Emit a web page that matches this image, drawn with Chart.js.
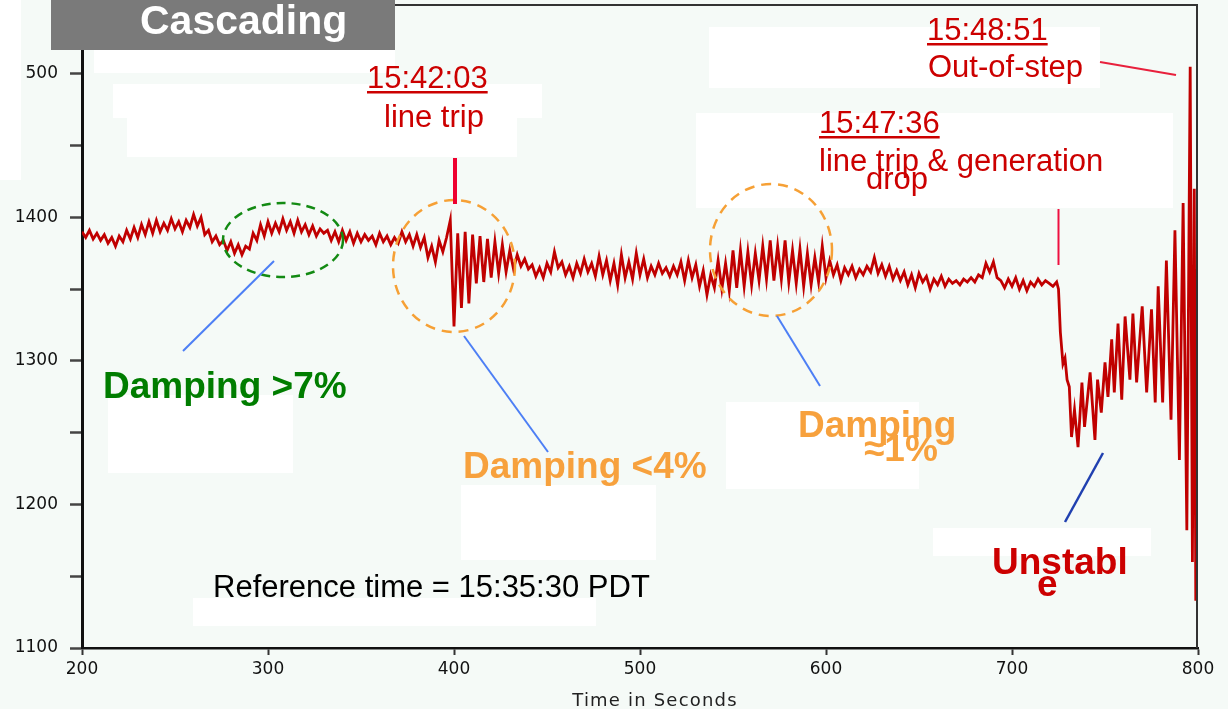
<!DOCTYPE html>
<html><head><meta charset="utf-8">
<script src="https://cdn.jsdelivr.net/npm/chart.js@4.4.1/dist/chart.umd.min.js"></script>
<style>html,body{margin:0;padding:0;background:#f5faf7;overflow:hidden}canvas{display:block}</style>
</head><body>
<canvas id="c" width="1228" height="709"></canvas>
<script>
// ---- data ----
const calmStart = 200;   // seconds, first sample
const calmStep = 2;      // seconds between samples
const calmValues = [
 1390,1386,1391,1385,1389,1384,1388,1382,1386,1380,
 1387,1383,1391,1385,1393,1386,1395,1388,1397,1389,
 1398,1390,1396,1391,1399,1392,1397,1390,1398,1393,
 1402,1394,1400,1388,1391,1383,1387,1381,1384,1377,
 1383,1375,1381,1374,1380,1378,1389,1384,1395,1387,
 1397,1389,1396,1390,1399,1391,1397,1389,1398,1390,
 1395,1388,1394,1387,1392,1389,1391,1384,1390,1383,
 1391,1384,1390,1382,1389,1383,1388,1384,1387,1381,
 1389,1383,1387,1381,1386,1382,1390,1383,1388,1380,
 1388,1379,1386,1372,1380,1369,1384,1376,1386,1398,
 1324,1389,1337,1390,1340,1388,1354,1387,1355,1385,
 1358,1383,1361,1381,1362,1377,1364,1374,1366,1371,
 1364,1367,1359,1365,1358,1368,1362,1376,1365,1369,
 1360,1366,1358,1368,1361,1371,1362,1368,1359,1373,
 1360,1370,1356,1368,1353,1374,1358,1369,1357,1375,
 1360,1371,1358,1366,1360,1368,1361,1365,1359,1366,
 1360,1369,1356,1370,1358,1367,1352,1363,1346,1360,
 1351,1370,1350,1368,1349,1377,1351,1377,1352,1376,
 1353,1375,1356,1380,1357,1384,1356,1380,1357,1384,
 1355,1377,1354,1378,1352,1375,1353,1372,1355,1380,
 1358,1370,1360,1367,1356,1365,1360,1366,1358,1364,
 1360,1366,1362,1372,1361,1367,1359,1366,1357,1363,
 1356,1362,1353,1360,1351,1361,1355,1359,1350,1357,
 1353,1359,1352,1357,1354,1356,1353,1357,1355,1358,
 1355,1360,1358,1368,1362,1369,1358,1356,1351,1357,
 1352,1358,1350,1356,1349,1355,1352,1357,1353,1356,1354,1352,1355
];
const unstableTimes = [725,726,727.4,728.5,729.6,730.8,732,733.6,735.5,737.6,
 739,742,744.6,746,748,750,751.6,753.6,755,757,
 759,760.8,763.4,765,767,770,772.4,775,777,778.6,
 781,783,785.5,787.6,790,792,794,795.8,797,798,798.8];
const unstableValues = [1350,1320,1298,1302,1287,1282,1247,1266,1240,1285,
 1254,1292,1245,1287,1264,1299,1275,1315,1278,1326,
 1273,1331,1287,1333,1285,1338,1278,1336,1271,1352,
 1271,1370,1259,1391,1231,1410,1182,1505,1160,1420,1133];
const xTicks = [200,300,400,500,600,700,800];
const xTickLabels = ['200','300','400','500','600','700','800'];
const yTicks = [1100,1150,1200,1250,1300,1350,1400,1450,1500];
const yTickLabels = ['1100','','1200','','1300','','1400','','500'];
const xTitle = 'Time in Seconds';

const points = calmValues.map((v,i)=>({x: calmStart + i*calmStep, y: v}))
  .concat(unstableTimes.map((t,i)=>({x: t, y: unstableValues[i]})));

const SANS = '"Liberation Sans", Arial, sans-serif';
const R = '31px ' + SANS;
const B = 'bold 37px ' + SANS;

const whiteBoxes = [
 [0,0,21,180],[94,40,301,33],[113,84,429,34],[127,118,390,39],
 [108,395,185,78],[461,485,195,75],[726,402,193,87],[933,528,218,28],
 [193,598,403,28],[709,27,391,61],[696,113,477,95]
];
const labels = [
 ['15:42:03',367,88,R,'#cc0000',true],
 ['line trip',384,127,R,'#cc0000',false],
 ['15:48:51',927,40,R,'#cc0000',true],
 ['Out-of-step',928,77,R,'#cc0000',false],
 ['15:47:36',819,133,R,'#cc0000',true],
 ['line trip & generation',819,171,R,'#cc0000',false],
 ['drop',866,189,R,'#cc0000',false],
 ['Damping >7%',103,398,B,'#007d00',false],
 ['Damping <4%',463,478,B,'#f7a13d',false],
 ['Damping',798,437,B,'#f7a13d',false],
 ['\u22481%',864,461,B,'#f7a13d',false],
 ['Unstabl',992,574,B,'#cc0000',false],
 ['e',1037,596,B,'#cc0000',false],
 ['Reference time = 15:35:30 PDT',213,597,R,'#000000',false]
];

const decor = {
  id:'decor',
  beforeDraw(chart){
    const c = chart.ctx;
    c.save();
    c.fillStyle = '#f5faf7';
    c.fillRect(0,0,chart.width,chart.height);
    c.fillStyle = '#ffffff';
    whiteBoxes.forEach(b=>c.fillRect(b[0],b[1],b[2],b[3]));
    c.restore();
  },
  afterDatasetsDraw(chart){
    const c = chart.ctx;
    c.save();
    const ell = (x,y,rx,ry,col,dash)=>{
      c.beginPath(); c.setLineDash(dash); c.strokeStyle=col; c.lineWidth=2.5;
      c.ellipse(x,y,rx,ry,0,0,Math.PI*2); c.stroke();
    };
    ell(283,240,60,37,'#138a13',[9,6]);
    ell(454,266,61,66,'#f6a035',[10,7]);
    ell(771,250,61,66,'#f6a035',[10,7]);
    c.setLineDash([]);
    const seg = (x1,y1,x2,y2,col,w)=>{
      c.beginPath(); c.strokeStyle=col; c.lineWidth=w; c.moveTo(x1,y1); c.lineTo(x2,y2); c.stroke();
    };
    seg(183,351,274,261,'#4d7ff5',2);
    seg(464,336,548,452,'#4d7ff5',2);
    seg(777,316,820,386,'#4d7ff5',2);
    seg(1065,522,1103,453,'#2040b0',2.5);
    seg(455,158,455,204,'#ee0030',4);
    seg(1058.5,209,1058.5,265,'#ee1040',2);
    seg(1100,62,1176,75,'#e8203c',2);
    c.restore();
  },
  afterDraw(chart){
    const c = chart.ctx, a = chart.chartArea;
    c.save();
    // frame top and right
    c.strokeStyle = '#333'; c.lineWidth = 2;
    c.beginPath(); c.moveTo(a.left, a.top); c.lineTo(a.right-1, a.top); c.lineTo(a.right-1, a.bottom); c.stroke();
    // axis title
    c.fillStyle = '#222';
    c.font = '18px "DejaVu Sans", sans-serif';
    c.textAlign = 'center'; c.textBaseline = 'alphabetic';
    try { c.letterSpacing = '1.2px'; } catch(e) {}
    c.fillText(xTitle, 655, 706);
    try { c.letterSpacing = '0px'; } catch(e) {}
    // annotation texts
    c.textAlign = 'left';
    labels.forEach(([s,x,y,f,col,u])=>{
      c.font = f; c.fillStyle = col; c.fillText(s,x,y);
      if(u){ const w = c.measureText(s).width; c.fillRect(x, y+3, w, 2.5); }
    });
    // title box
    c.fillStyle = '#7a7a7a';
    c.fillRect(51,0,344,50);
    c.fillStyle = '#ffffff';
    c.font = 'bold 41px ' + SANS;
    c.fillText('Cascading', 140, 34);
    c.restore();
  }
};

new Chart(document.getElementById('c').getContext('2d'), {
  type:'line',
  data:{datasets:[{data:points, borderColor:'#c00000', borderWidth:2.8, pointRadius:0, tension:0, fill:false}]},
  options:{
    responsive:false, animation:false, devicePixelRatio:1,
    layout:{padding:{top:5,right:30,left:0,bottom:0}},
    plugins:{legend:{display:false}, tooltip:{enabled:false}, title:{display:false}},
    scales:{
      x:{type:'linear', min:200, max:800,
        afterBuildTicks:s=>{s.ticks = xTicks.map(v=>({value:v}));},
        afterFit:s=>{s.height = 61; s.paddingLeft = 0; s.paddingRight = 0;},
        ticks:{autoSkip:false, maxRotation:0, padding:4, color:'#111',
          font:{family:'DejaVu Sans', size:17},
          callback:(v)=>{const i = xTicks.indexOf(v); return i>=0 ? xTickLabels[i] : '';}},
        grid:{display:true, drawOnChartArea:false, drawTicks:true, tickLength:7, tickWidth:2, tickColor:'#333'},
        border:{display:true, color:'#111', width:2.5}
      },
      y:{type:'linear', min:1100, max:1548,
        afterBuildTicks:s=>{s.ticks = yTicks.map(v=>({value:v}));},
        afterFit:s=>{s.width = 82; s.paddingTop = 0; s.paddingBottom = 0;},
        ticks:{autoSkip:false, padding:12, color:'#111',
          font:{family:'DejaVu Sans', size:17},
          callback:(v)=>{const i = yTicks.indexOf(v); return i>=0 ? yTickLabels[i] : '';}},
        grid:{display:true, drawOnChartArea:false, drawTicks:true, tickLength:12, tickWidth:2.5, tickColor:'#444'},
        border:{display:true, color:'#111', width:3}
      }
    }
  },
  plugins:[decor]
});
</script>
</body></html>
